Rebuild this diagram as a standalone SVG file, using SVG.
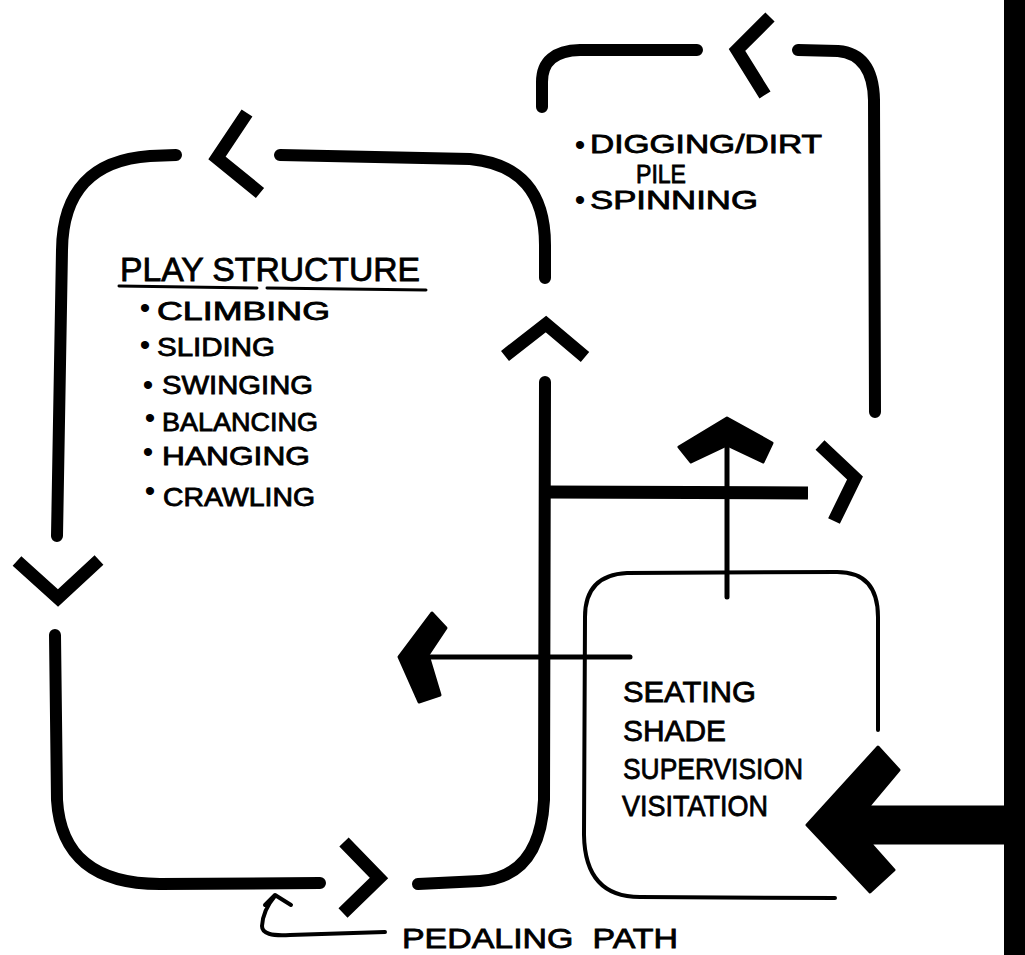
<svg xmlns="http://www.w3.org/2000/svg" width="1025" height="955" viewBox="0 0 1025 955">
<style>
.thick{fill:none;stroke:#000;stroke-width:12;stroke-linecap:round;stroke-linejoin:round}
.chev{fill:none;stroke:#000;stroke-width:13;stroke-linecap:butt;stroke-linejoin:miter}
.thin{fill:none;stroke:#000;stroke-width:5;stroke-linecap:round}
.box{fill:none;stroke:#000;stroke-width:4;stroke-linecap:round}
.fat{fill:#000;stroke:#000;stroke-width:3;stroke-linejoin:round}
.hand{font-family:"Liberation Sans",Arial,sans-serif;fill:#000;stroke:#000;stroke-width:0.8}
.bul{font-family:"Liberation Sans",Arial,sans-serif;font-size:30px;fill:#000;text-anchor:middle}
</style>
<rect width="1025" height="955" fill="#fff"/>
<g id="connectors">
  <path class="thick" d="M176,155 L150,156 Q63,162 62,250 L57,536"/>
  <path class="thick" d="M280,155 L470,159 Q545,166 545,245 L545,278"/>
  <path class="thick" d="M545,382 L544,800 Q540,877 480,881 L418,884"/>
  <path class="thick" d="M55,635 L57,800 Q62,884 160,884 L320,883"/>
  <path class="chev" d="M247,113 L217,158 L260,193"/>
  <path class="chev" d="M505,356 L546,324 L585,357"/>
  <path class="chev" d="M17,561 L58,598 L99,560"/>
  <path class="chev" d="M344,842 L379,878 L343,913"/>
  <path class="thick" d="M542,107 L542,82 Q542,51 580,50 L697,50"/>
  <path class="thick" d="M798,50 L838,51 Q873,54 874,100 L875,412"/>
  <path class="chev" d="M770,17 L737,50 L765,95"/>
  <path class="chev" d="M545,492 L808,493"/>
  <path class="chev" d="M820,445 L855,478 L834,521"/>
  <path class="thin" d="M727,597 L727,440"/>
  <polygon class="fat" points="727,418 772,443 763,462 727,445 691,462 679,447"/>
  <path class="thin" d="M630,657 L423,657"/>
  <polygon class="fat" points="399,657 432,613 446,628 428,655 440,695 419,702"/>
  <rect x="1004" y="0" width="21" height="955" fill="#000"/>
  <polygon class="fat" points="807,825 878,747 899,770 868,807 1005,807 1005,843 870,843 894,870 870,892"/>
  <path class="thin" style="stroke-width:4" d="M385,932 L290,935 Q262,937 262,926 Q263,910 275,896"/>
  <path class="thin" style="stroke-width:4;stroke-linejoin:round" d="M265,905 L275,895 L291,905"/>
</g>
<g id="play-structure">
  <text class="hand" x="120" y="281" font-size="33" textLength="300" lengthAdjust="spacingAndGlyphs">PLAY STRUCTURE</text>
  <path class="box" style="stroke-width:3" d="M119,286 L257,288 M267,288 L426,290"/>
  <text class="bul" x="145" y="318">•</text>
  <text class="hand" x="157" y="320" font-size="25" textLength="173" lengthAdjust="spacingAndGlyphs">CLIMBING</text>
  <text class="bul" x="145" y="355">•</text>
  <text class="hand" x="157" y="356" font-size="25" textLength="118" lengthAdjust="spacingAndGlyphs">SLIDING</text>
  <text class="bul" x="148" y="395">•</text>
  <text class="hand" x="162" y="394" font-size="25" textLength="151" lengthAdjust="spacingAndGlyphs">SWINGING</text>
  <text class="bul" x="150" y="428">•</text>
  <text class="hand" x="162" y="431" font-size="25" textLength="156" lengthAdjust="spacingAndGlyphs">BALANCING</text>
  <text class="bul" x="148" y="462">•</text>
  <text class="hand" x="162" y="465" font-size="25" textLength="148" lengthAdjust="spacingAndGlyphs">HANGING</text>
  <text class="bul" x="150" y="501">•</text>
  <text class="hand" x="163" y="506" font-size="25" textLength="152" lengthAdjust="spacingAndGlyphs">CRAWLING</text>
</g>
<g id="digging">
  <text class="bul" x="580" y="155">•</text>
  <text class="hand" x="590" y="153" font-size="25" textLength="232" lengthAdjust="spacingAndGlyphs">DIGGING/DIRT</text>
  <text class="hand" x="636" y="183" font-size="25" textLength="50" lengthAdjust="spacingAndGlyphs">PILE</text>
  <text class="bul" x="580" y="210">•</text>
  <text class="hand" x="590" y="209" font-size="25" textLength="168" lengthAdjust="spacingAndGlyphs">SPINNING</text>
</g>
<g id="seating">
  <path class="box" d="M878,730 L878,617 Q878,572 837,572 L627,573 Q585,575 585,617 L584,835 Q585,897 640,897 L835,898"/>
  <text class="hand" x="623" y="702" font-size="30" textLength="133" lengthAdjust="spacingAndGlyphs">SEATING</text>
  <text class="hand" x="623" y="741" font-size="30" textLength="103" lengthAdjust="spacingAndGlyphs">SHADE</text>
  <text class="hand" x="623" y="779" font-size="30" textLength="180" lengthAdjust="spacingAndGlyphs">SUPERVISION</text>
  <text class="hand" x="622" y="816" font-size="30" textLength="146" lengthAdjust="spacingAndGlyphs">VISITATION</text>
</g>
<g id="pedaling-path-label">
  <text class="hand" x="402" y="948" font-size="28" textLength="276" lengthAdjust="spacingAndGlyphs" word-spacing="8">PEDALING PATH</text>
</g>
</svg>
